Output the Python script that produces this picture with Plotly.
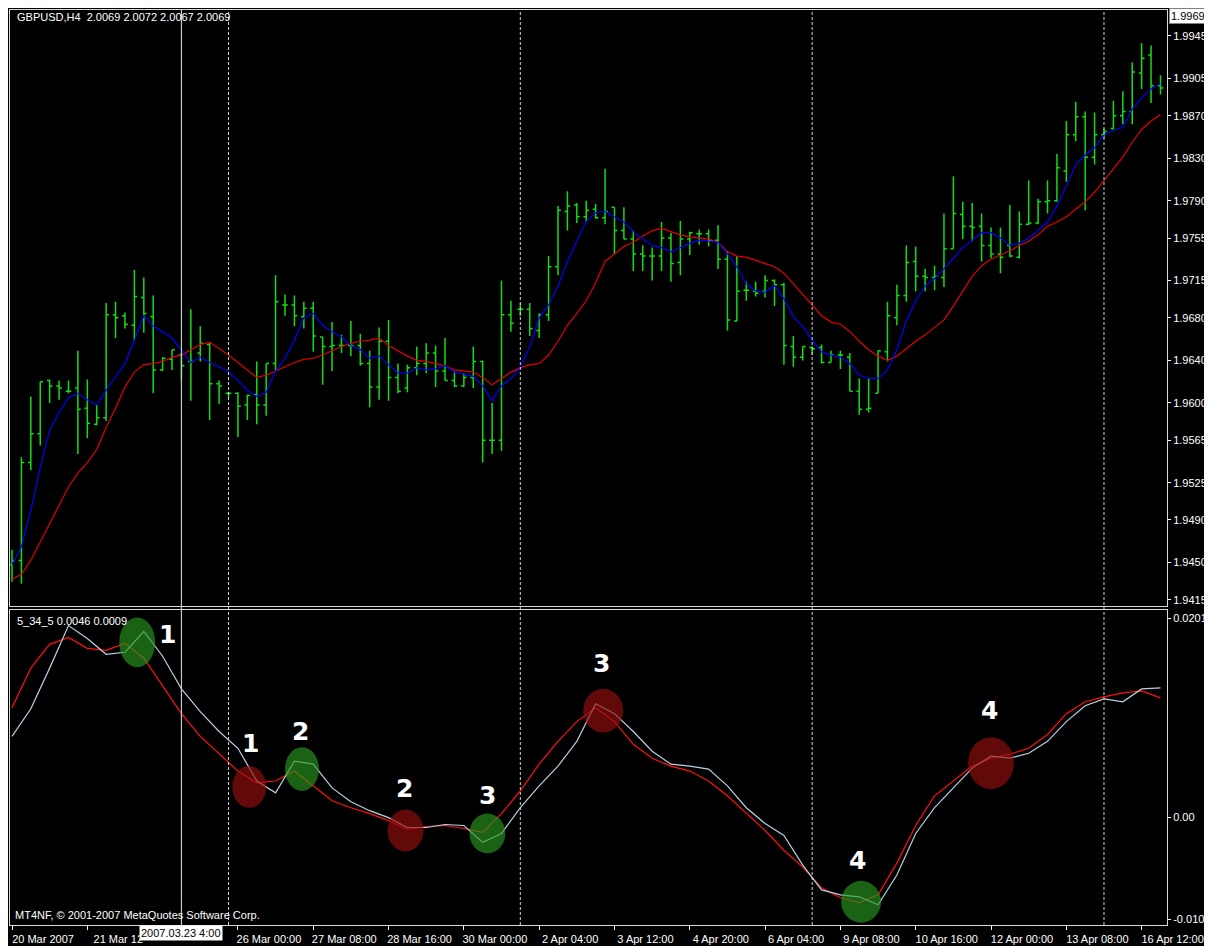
import plotly.graph_objects as go

# ------------------------------------------------------------------ data
bar_index = list(range(123))

bar_open = [1.9448, 1.9452, 1.9544, 1.9571, 1.9621, 1.9616, 1.9611, 1.9614, 1.9595, 1.9580,
            1.9586, 1.9683, 1.9682, 1.9673, 1.9699, 1.9681, 1.9631, 1.9641, 1.9645, 1.9639,
            1.9647, 1.9655, 1.9618, 1.9609, 1.9609, 1.9598, 1.9608, 1.9598, 1.9637, 1.9692,
            1.9692, 1.9681, 1.9689, 1.9662, 1.9653, 1.9654, 1.9654, 1.9654, 1.9637, 1.9615,
            1.9658, 1.9624, 1.9614, 1.9633, 1.9637, 1.9647, 1.9630, 1.9621, 1.9616, 1.9624,
            1.9639, 1.9565, 1.9565, 1.9683, 1.9688, 1.9688, 1.9668, 1.9683, 1.9728, 1.9780,
            1.9786, 1.9775, 1.9782, 1.9774, 1.9784, 1.9762, 1.9754, 1.9740, 1.9738, 1.9738,
            1.9755, 1.9732, 1.9754, 1.9759, 1.9759, 1.9753, 1.9735, 1.9677, 1.9706, 1.9705,
            1.9705, 1.9715, 1.9711, 1.9653, 1.9643, 1.9652, 1.9652, 1.9638, 1.9645, 1.9643,
            1.9611, 1.9594, 1.9609, 1.9648, 1.9680, 1.9701, 1.9733, 1.9719, 1.9718, 1.9718,
            1.9745, 1.9777, 1.9766, 1.9766, 1.9748, 1.9740, 1.9748, 1.9737, 1.9768, 1.9769,
            1.9789, 1.9790, 1.9818, 1.9852, 1.9869, 1.9831, 1.9852, 1.9858, 1.9870, 1.9874,
            1.9910, 1.9927, 1.9898]
bar_high = [1.9462, 1.9549, 1.9606, 1.9620, 1.9622, 1.9621, 1.9621, 1.9649, 1.9622, 1.9598,
            1.9694, 1.9695, 1.9685, 1.9725, 1.9718, 1.9701, 1.9643, 1.9650, 1.9647, 1.9688,
            1.9672, 1.9657, 1.9621, 1.9610, 1.9610, 1.9608, 1.9639, 1.9637, 1.9720, 1.9702,
            1.9701, 1.9695, 1.9695, 1.9662, 1.9676, 1.9664, 1.9677, 1.9665, 1.9649, 1.9671,
            1.9678, 1.9637, 1.9636, 1.9653, 1.9656, 1.9654, 1.9661, 1.9630, 1.9628, 1.9653,
            1.9640, 1.9600, 1.9715, 1.9696, 1.9694, 1.9694, 1.9684, 1.9738, 1.9785, 1.9799,
            1.9788, 1.9790, 1.9787, 1.9820, 1.9784, 1.9784, 1.9762, 1.9748, 1.9746, 1.9770,
            1.9760, 1.9771, 1.9761, 1.9763, 1.9763, 1.9767, 1.9742, 1.9738, 1.9714, 1.9714,
            1.9720, 1.9716, 1.9713, 1.9663, 1.9653, 1.9653, 1.9655, 1.9649, 1.9649, 1.9647,
            1.9623, 1.9623, 1.9649, 1.9695, 1.9711, 1.9748, 1.9747, 1.9726, 1.9729, 1.9778,
            1.9813, 1.9789, 1.9788, 1.9778, 1.9765, 1.9765, 1.9786, 1.9780, 1.9809, 1.9792,
            1.9809, 1.9834, 1.9865, 1.9883, 1.9874, 1.9873, 1.9858, 1.9884, 1.9893, 1.9920,
            1.9938, 1.9936, 1.9908]
bar_low = [1.9432, 1.9430, 1.9537, 1.9560, 1.9600, 1.9603, 1.9609, 1.9552, 1.9567, 1.9579,
           1.9583, 1.9661, 1.9670, 1.9658, 1.9666, 1.9609, 1.9630, 1.9631, 1.9621, 1.9602,
           1.9639, 1.9584, 1.9599, 1.9605, 1.9568, 1.9584, 1.9580, 1.9588, 1.9630, 1.9682,
           1.9672, 1.9670, 1.9648, 1.9617, 1.9630, 1.9647, 1.9644, 1.9635, 1.9596, 1.9603,
           1.9602, 1.9609, 1.9610, 1.9626, 1.9628, 1.9615, 1.9621, 1.9615, 1.9615, 1.9614,
           1.9544, 1.9552, 1.9555, 1.9667, 1.9682, 1.9663, 1.9661, 1.9677, 1.9720, 1.9762,
           1.9769, 1.9770, 1.9773, 1.9768, 1.9740, 1.9754, 1.9724, 1.9724, 1.9715, 1.9724,
           1.9714, 1.9720, 1.9739, 1.9749, 1.9747, 1.9726, 1.9668, 1.9677, 1.9696, 1.9700,
           1.9699, 1.9691, 1.9636, 1.9634, 1.9640, 1.9645, 1.9637, 1.9638, 1.9632, 1.9611,
           1.9589, 1.9591, 1.9609, 1.9639, 1.9673, 1.9695, 1.9705, 1.9705, 1.9706, 1.9709,
           1.9745, 1.9754, 1.9752, 1.9733, 1.9736, 1.9722, 1.9737, 1.9736, 1.9767, 1.9768,
           1.9778, 1.9789, 1.9808, 1.9846, 1.9781, 1.9824, 1.9849, 1.9857, 1.9862, 1.9862,
           1.9895, 1.9882, 1.9890]
bar_close = [1.9452, 1.9544, 1.9571, 1.9620, 1.9616, 1.9614, 1.9611, 1.9594, 1.9581, 1.9586,
             1.9683, 1.9680, 1.9674, 1.9700, 1.9684, 1.9631, 1.9642, 1.9650, 1.9635, 1.9639,
             1.9656, 1.9618, 1.9616, 1.9609, 1.9597, 1.9607, 1.9598, 1.9637, 1.9695, 1.9692,
             1.9682, 1.9689, 1.9663, 1.9653, 1.9654, 1.9654, 1.9654, 1.9637, 1.9615, 1.9658,
             1.9624, 1.9611, 1.9633, 1.9637, 1.9647, 1.9630, 1.9621, 1.9616, 1.9624, 1.9639,
             1.9565, 1.9565, 1.9683, 1.9675, 1.9688, 1.9670, 1.9683, 1.9728, 1.9781, 1.9785,
             1.9775, 1.9781, 1.9774, 1.9780, 1.9762, 1.9754, 1.9740, 1.9738, 1.9738, 1.9755,
             1.9731, 1.9754, 1.9760, 1.9759, 1.9753, 1.9735, 1.9678, 1.9705, 1.9706, 1.9703,
             1.9715, 1.9711, 1.9654, 1.9643, 1.9653, 1.9651, 1.9638, 1.9645, 1.9645, 1.9611,
             1.9594, 1.9595, 1.9649, 1.9682, 1.9701, 1.9732, 1.9719, 1.9718, 1.9719, 1.9745,
             1.9778, 1.9766, 1.9765, 1.9748, 1.9740, 1.9737, 1.9738, 1.9768, 1.9769, 1.9789,
             1.9790, 1.9821, 1.9852, 1.9869, 1.9831, 1.9852, 1.9855, 1.9870, 1.9874, 1.9911,
             1.9924, 1.9898, 1.9896]

ma_fast = [1.9448, 1.9465, 1.9499, 1.9539, 1.9574, 1.9591, 1.9605, 1.9609, 1.9603, 1.9598,
           1.9612, 1.9625, 1.9637, 1.9659, 1.9682, 1.9672, 1.9667, 1.9661, 1.9649, 1.9638,
           1.9643, 1.9638, 1.9634, 1.9629, 1.9621, 1.9612, 1.9606, 1.9610, 1.9630, 1.9642,
           1.9659, 1.9680, 1.9684, 1.9673, 1.9667, 1.9662, 1.9654, 1.9650, 1.9642, 1.9644,
           1.9636, 1.9628, 1.9628, 1.9633, 1.9631, 1.9632, 1.9635, 1.9629, 1.9627, 1.9625,
           1.9616, 1.9602, 1.9616, 1.9623, 1.9633, 1.9653, 1.9680, 1.9692, 1.9710, 1.9733,
           1.9752, 1.9771, 1.9779, 1.9780, 1.9775, 1.9770, 1.9761, 1.9754, 1.9748, 1.9746,
           1.9742, 1.9746, 1.9750, 1.9753, 1.9752, 1.9751, 1.9740, 1.9728, 1.9712, 1.9705,
           1.9704, 1.9710, 1.9698, 1.9681, 1.9672, 1.9659, 1.9648, 1.9645, 1.9643, 1.9637,
           1.9626, 1.9623, 1.9623, 1.9631, 1.9650, 1.9677, 1.9696, 1.9710, 1.9717, 1.9726,
           1.9736, 1.9746, 1.9753, 1.9760, 1.9760, 1.9755, 1.9748, 1.9750, 1.9755, 1.9762,
           1.9770, 1.9785, 1.9804, 1.9824, 1.9833, 1.9840, 1.9852, 1.9856, 1.9859, 1.9876,
           1.9887, 1.9895, 1.9900]
ma_slow = [1.9434, 1.9439, 1.9452, 1.9469, 1.9487, 1.9504, 1.9521, 1.9534, 1.9544, 1.9556,
           1.9577, 1.9595, 1.9615, 1.9629, 1.9636, 1.9637, 1.9639, 1.9643, 1.9645, 1.9650,
           1.9655, 1.9657, 1.9651, 1.9645, 1.9638, 1.9631, 1.9624, 1.9626, 1.9630, 1.9634,
           1.9638, 1.9641, 1.9642, 1.9645, 1.9649, 1.9653, 1.9656, 1.9658, 1.9659, 1.9661,
           1.9654, 1.9649, 1.9644, 1.9640, 1.9639, 1.9637, 1.9635, 1.9631, 1.9630, 1.9629,
           1.9624, 1.9617, 1.9623, 1.9629, 1.9633, 1.9636, 1.9637, 1.9645, 1.9658, 1.9673,
           1.9684, 1.9696, 1.9713, 1.9733, 1.9740, 1.9747, 1.9751, 1.9757, 1.9762, 1.9764,
           1.9761, 1.9758, 1.9756, 1.9755, 1.9754, 1.9751, 1.9742, 1.9738, 1.9737, 1.9734,
           1.9731, 1.9728, 1.9722, 1.9712, 1.9701, 1.9692, 1.9682, 1.9676, 1.9674, 1.9667,
           1.9658, 1.9650, 1.9644, 1.9640, 1.9644, 1.9651, 1.9658, 1.9664, 1.9671, 1.9678,
           1.9691, 1.9705, 1.9719, 1.9729, 1.9735, 1.9739, 1.9743, 1.9748, 1.9752, 1.9758,
           1.9766, 1.9770, 1.9775, 1.9782, 1.9789, 1.9798, 1.9809, 1.9820, 1.9831, 1.9845,
           1.9857, 1.9865, 1.9871]

osc_bars = list(range(0, 123, 2))
osc_main = [0.0082, 0.0110, 0.0151, 0.0194, 0.0181, 0.0165, 0.0167, 0.0188, 0.0163, 0.0130,
            0.0107, 0.0087, 0.0070, 0.0037, 0.0025, 0.0057, 0.0054, 0.0030, 0.0016, 0.0007,
            0.0000, -0.0010, -0.0010, -0.0007, -0.0008, -0.0025, -0.0016, 0.0010, 0.0032, 0.0052,
            0.0077, 0.0115, 0.0105, 0.0087, 0.0067, 0.0054, 0.0052, 0.0049, 0.0032, 0.0010,
            -0.0006, -0.0018, -0.0048, -0.0073, -0.0078, -0.0080, -0.0088, -0.0058, -0.0016, 0.0010,
            0.0030, 0.0050, 0.0062, 0.0060, 0.0065, 0.0077, 0.0097, 0.0113, 0.0120, 0.0117,
            0.0130, 0.0131]
osc_signal = [0.0111, 0.0151, 0.0175, 0.0182, 0.0171, 0.0169, 0.0176, 0.0161, 0.0133, 0.0105,
              0.0082, 0.0064, 0.0047, 0.0035, 0.0037, 0.0047, 0.0032, 0.0017, 0.0010, 0.0004,
              -0.0003, -0.0012, -0.0009, -0.0008, -0.0011, -0.0015, 0.0004, 0.0027, 0.0054, 0.0077,
              0.0097, 0.0111, 0.0097, 0.0074, 0.0060, 0.0052, 0.0047, 0.0037, 0.0022, 0.0004,
              -0.0013, -0.0033, -0.0050, -0.0071, -0.0081, -0.0086, -0.0078, -0.0046, -0.0008, 0.0022,
              0.0037, 0.0052, 0.0060, 0.0064, 0.0070, 0.0084, 0.0105, 0.0117, 0.0122, 0.0126,
              0.0128, 0.0121]

date_tick_bars = list(range(0, 121, 8))
date_tick_labels = ["20 Mar 2007", "21 Mar 12", "", "26 Mar 00:00", "27 Mar 08:00",
                    "28 Mar 16:00", "30 Mar 00:00", "2 Apr 04:00", "3 Apr 12:00", "4 Apr 20:00",
                    "6 Apr 04:00", "9 Apr 08:00", "10 Apr 16:00", "12 Apr 00:00", "13 Apr 08:00",
                    "16 Apr 12:00"]
price_ticks = [1.9945, 1.9905, 1.9870, 1.9830, 1.9790, 1.9755, 1.9715, 1.9680, 1.9640,
               1.9600, 1.9565, 1.9525, 1.9490, 1.9450, 1.9415]
price_max_label = "1.9969"
osc_ticks = [0.0201, 0.0, -0.0103]
osc_tick_labels = ["0.0201", "0.00", "-0.0103"]

separator_bars = [23, 54, 85, 116]
crosshair_bar = 18
crosshair_label = "2007.03.23 4:00"

signal_bars = [13.3, 25.2, 30.8, 41.8, 50.5, 62.8, 90.2, 104.0]
signal_vals = [0.0177, 0.0031, 0.0049, -0.0013, -0.0016, 0.0108, -0.0085, 0.0055]
signal_kinds = ["buy", "sell", "buy", "sell", "buy", "sell", "buy", "sell"]
signal_labels = ["1", "1", "2", "2", "3", "3", "4", "4"]

header_text = "GBPUSD,H4  2.0069 2.0072 2.0067 2.0069"
osc_header_text = "5_34_5 0.0046 0.0009"
copyright_text = "MT4NF, \u00a9 2001-2007 MetaQuotes Software Corp."

# ------------------------------------------------------------------ style / layout
# the page body adds an 8px white margin; the figure fills the rest of the window
OFF = 8
FW, FH = 1204, 938
ML, MR, MT, MB = 1, 44, 2, 16
PW, PH = FW - ML - MR, FH - MT - MB
PX_PER_BAR = 9.43
OSC_PX_PER_UNIT = 9950.0


def px(xp):
    """page x pixel -> paper x"""
    return (xp - OFF - ML) / PW


def py(yp):
    """page y pixel -> paper y"""
    return (FH - MB - (yp - OFF)) / PH


TOP_DOMAIN = [py(609), 1.0]
BOT_DOMAIN = [0.0, py(613)]
x_left = (OFF + ML - 11) / PX_PER_BAR
X_RANGE = [x_left, x_left + PW / PX_PER_BAR]

FONT = "Liberation Sans, Arial, sans-serif"
BAR_GREEN = "#12dc12"
FRAME = "#d8d8d8"
circle_px = [(18, 25), (17, 21), (17, 22), (18, 21), (18, 20), (20, 22), (20, 21), (23, 26)]
label_shift = [(30, 8), (1, 43), (-1, 38), (-1, 42), (0, 38), (-2, 47), (-4, 41), (-2, 53)]
kind_fill = {"buy": "rgba(40,150,30,0.65)", "sell": "rgba(150,14,14,0.65)"}

fig = go.Figure()
fig.add_trace(go.Ohlc(x=bar_index, open=bar_open, high=bar_high, low=bar_low, close=bar_close,
                      increasing=dict(line=dict(color=BAR_GREEN, width=1.5)),
                      decreasing=dict(line=dict(color=BAR_GREEN, width=1.5)),
                      tickwidth=0.3, xaxis="x", yaxis="y", hoverinfo="skip", showlegend=False))
fig.add_trace(go.Scatter(x=bar_index, y=ma_slow, mode="lines", line=dict(color="#e00000", width=1.2),
                         xaxis="x", yaxis="y", hoverinfo="skip", showlegend=False))
fig.add_trace(go.Scatter(x=bar_index, y=ma_fast, mode="lines", line=dict(color="#0000ff", width=1.2),
                         xaxis="x", yaxis="y", hoverinfo="skip", showlegend=False))
fig.add_trace(go.Scatter(x=osc_bars, y=osc_signal, mode="lines", line=dict(color="#ff1010", width=1.2),
                         xaxis="x2", yaxis="y2", hoverinfo="skip", showlegend=False))
fig.add_trace(go.Scatter(x=osc_bars, y=osc_main, mode="lines", line=dict(color="#b8cfe0", width=1.2),
                         xaxis="x2", yaxis="y2", hoverinfo="skip", showlegend=False))

shapes = []
for b in separator_bars:
    shapes.append(dict(type="line", xref="x", yref="paper", x0=b, x1=b, y0=0, y1=1,
                       line=dict(color="#d0d0d0", width=1, dash="3px,2px")))
shapes.append(dict(type="line", xref="x", yref="paper", x0=crosshair_bar, x1=crosshair_bar, y0=0, y1=1,
                   line=dict(color="#c8c8c8", width=1.2)))
for b, v, k, (rx, ry) in zip(signal_bars, signal_vals, signal_kinds, circle_px):
    shapes.append(dict(type="circle", xref="x2", yref="y2",
                       x0=b - rx / PX_PER_BAR, x1=b + rx / PX_PER_BAR,
                       y0=v - ry / OSC_PX_PER_UNIT, y1=v + ry / OSC_PX_PER_UNIT,
                       fillcolor=kind_fill[k], line=dict(width=0)))

annotations = []
annotations.append(dict(xref="paper", yref="paper", x=px(14), y=py(17), xanchor="left", yanchor="middle",
                        text=header_text, showarrow=False, font=dict(family=FONT, size=11, color="white")))
annotations.append(dict(xref="paper", yref="paper", x=px(14), y=py(624), xanchor="left", yanchor="middle",
                        text=osc_header_text, showarrow=False, font=dict(family=FONT, size=11, color="white")))
annotations.append(dict(xref="paper", yref="paper", x=px(12), y=py(920), xanchor="left", yanchor="middle",
                        text=copyright_text, showarrow=False, font=dict(family=FONT, size=11, color="white")))
annotations.append(dict(xref="x", yref="paper", x=crosshair_bar, y=py(938), xanchor="center", yanchor="middle",
                        text=crosshair_label, showarrow=False, bgcolor="white", borderpad=1,
                        font=dict(family=FONT, size=11, color="black")))
annotations.append(dict(xref="paper", yref="paper", x=px(1170), y=py(8), xanchor="left", yanchor="top",
                        text=price_max_label, showarrow=False, bgcolor="white", bordercolor="#808080",
                        borderwidth=1, borderpad=1, font=dict(family=FONT, size=11, color="black")))
for b, v, lab, (dx, dy) in zip(signal_bars, signal_vals, signal_labels, label_shift):
    annotations.append(dict(xref="x2", yref="y2", x=b, y=v, xshift=dx, yshift=dy, text=lab,
                            showarrow=False, xanchor="center", yanchor="middle",
                            font=dict(family="DejaVu Sans", size=25, color="white", weight="bold",
                                      shadow="1px 1px 0 #000, -1px -1px 0 #000, 1px -1px 0 #000, -1px 1px 0 #000")))

axis_common = dict(showgrid=False, zeroline=False, showline=True, mirror=True, linecolor=FRAME, linewidth=1)

fig.update_layout(
    width=FW, height=FH,
    margin=dict(l=ML, r=MR, t=MT, b=MB, pad=0),
    paper_bgcolor="black", plot_bgcolor="black",
    showlegend=False, hovermode=False,
    font=dict(family=FONT, size=11, color="white"),
    xaxis=dict(domain=[0, 1], anchor="y", range=X_RANGE, showticklabels=False, ticks="",
               rangeslider=dict(visible=False), **axis_common),
    yaxis=dict(domain=TOP_DOMAIN, anchor="x", side="right", range=[1.94094, 1.99693],
               tickvals=price_ticks, ticktext=["%.4f" % t for t in price_ticks],
               ticks="outside", ticklen=3, tickcolor="white",
               tickfont=dict(family=FONT, size=11, color="white"), **axis_common),
    xaxis2=dict(domain=[0, 1], anchor="y2", matches="x", range=X_RANGE,
                tickvals=date_tick_bars, ticktext=date_tick_labels,
                ticks="outside", ticklen=4, tickcolor="white", ticklabelshift=31, ticklabelstandoff=0,
                tickfont=dict(family=FONT, size=11, color="white"), **axis_common),
    yaxis2=dict(domain=BOT_DOMAIN, anchor="x2", side="right", range=[-0.01085, 0.0210],
                tickvals=osc_ticks, ticktext=osc_tick_labels,
                ticks="outside", ticklen=3, tickcolor="white",
                tickfont=dict(family=FONT, size=11, color="white"), **axis_common),
    shapes=shapes,
    annotations=annotations,
)

fig.write_html("out.html")
